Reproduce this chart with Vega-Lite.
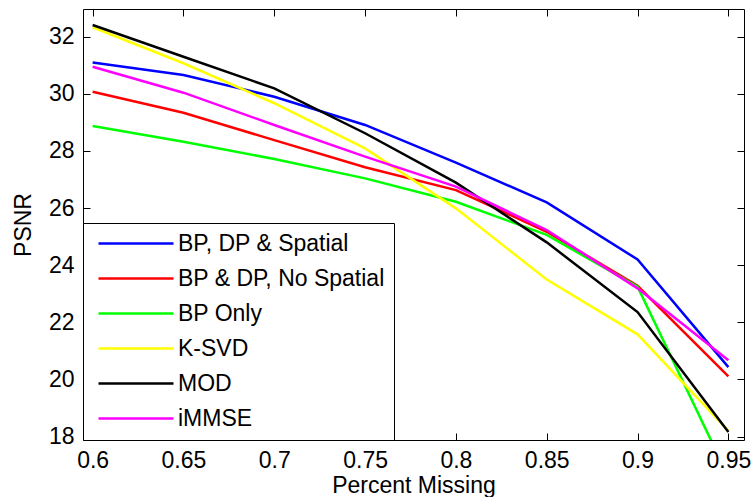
{
  "$schema": "https://vega.github.io/schema/vega-lite/v6.json",
  "width": 661,
  "height": 431,
  "autosize": {"type": "none"},
  "padding": {"left": 83, "top": 9, "right": 8, "bottom": 57},
  "background": "white",
  "config": {
    "font": "Liberation Sans",
    "view": {"stroke": null},
    "axis": {
      "grid": false,
      "domainColor": "black",
      "domainWidth": 1,
      "tickColor": "black",
      "tickWidth": 1,
      "tickSize": -7,
      "labelColor": "black",
      "labelFontSize": 23,
      "labelFont": "Liberation Sans",
      "titleFont": "Liberation Sans",
      "titleFontSize": 23,
      "titleFontWeight": "normal",
      "titleColor": "black",
      "labelPadding": 16
    }
  },
  "data": {
    "values": [
      {"method": "BP, DP & Spatial", "missing": 0.6, "psnr": 31.1},
      {"method": "BP, DP & Spatial", "missing": 0.65, "psnr": 30.66},
      {"method": "BP, DP & Spatial", "missing": 0.7, "psnr": 29.9},
      {"method": "BP, DP & Spatial", "missing": 0.75, "psnr": 28.91},
      {"method": "BP, DP & Spatial", "missing": 0.8, "psnr": 27.59},
      {"method": "BP, DP & Spatial", "missing": 0.85, "psnr": 26.2},
      {"method": "BP, DP & Spatial", "missing": 0.9, "psnr": 24.2},
      {"method": "BP, DP & Spatial", "missing": 0.95, "psnr": 20.43},
      {"method": "BP & DP, No Spatial", "missing": 0.6, "psnr": 30.07},
      {"method": "BP & DP, No Spatial", "missing": 0.65, "psnr": 29.34},
      {"method": "BP & DP, No Spatial", "missing": 0.7, "psnr": 28.38},
      {"method": "BP & DP, No Spatial", "missing": 0.75, "psnr": 27.43},
      {"method": "BP & DP, No Spatial", "missing": 0.8, "psnr": 26.63},
      {"method": "BP & DP, No Spatial", "missing": 0.85, "psnr": 25.17},
      {"method": "BP & DP, No Spatial", "missing": 0.9, "psnr": 23.28},
      {"method": "BP & DP, No Spatial", "missing": 0.95, "psnr": 20.11},
      {"method": "BP Only", "missing": 0.6, "psnr": 28.87},
      {"method": "BP Only", "missing": 0.65, "psnr": 28.32},
      {"method": "BP Only", "missing": 0.7, "psnr": 27.72},
      {"method": "BP Only", "missing": 0.75, "psnr": 27.04},
      {"method": "BP Only", "missing": 0.8, "psnr": 26.22},
      {"method": "BP Only", "missing": 0.85, "psnr": 25.06},
      {"method": "BP Only", "missing": 0.9, "psnr": 23.25},
      {"method": "BP Only", "missing": 0.95, "psnr": 16.6},
      {"method": "K-SVD", "missing": 0.6, "psnr": 32.33},
      {"method": "K-SVD", "missing": 0.65, "psnr": 31.07},
      {"method": "K-SVD", "missing": 0.7, "psnr": 29.67},
      {"method": "K-SVD", "missing": 0.75, "psnr": 28.09},
      {"method": "K-SVD", "missing": 0.8, "psnr": 25.99},
      {"method": "K-SVD", "missing": 0.85, "psnr": 23.5},
      {"method": "K-SVD", "missing": 0.9, "psnr": 21.58},
      {"method": "K-SVD", "missing": 0.95, "psnr": 18.2},
      {"method": "MOD", "missing": 0.6, "psnr": 32.41},
      {"method": "MOD", "missing": 0.65, "psnr": 31.3},
      {"method": "MOD", "missing": 0.7, "psnr": 30.19},
      {"method": "MOD", "missing": 0.75, "psnr": 28.62},
      {"method": "MOD", "missing": 0.8, "psnr": 26.89},
      {"method": "MOD", "missing": 0.85, "psnr": 24.8},
      {"method": "MOD", "missing": 0.9, "psnr": 22.36},
      {"method": "MOD", "missing": 0.95, "psnr": 18.16},
      {"method": "iMMSE", "missing": 0.6, "psnr": 30.95},
      {"method": "iMMSE", "missing": 0.65, "psnr": 30.04},
      {"method": "iMMSE", "missing": 0.7, "psnr": 28.91},
      {"method": "iMMSE", "missing": 0.75, "psnr": 27.8},
      {"method": "iMMSE", "missing": 0.8, "psnr": 26.75},
      {"method": "iMMSE", "missing": 0.85, "psnr": 25.23},
      {"method": "iMMSE", "missing": 0.9, "psnr": 23.19},
      {"method": "iMMSE", "missing": 0.95, "psnr": 20.67}
    ]
  },
  "layer": [
    {
      "mark": {"type": "line", "strokeWidth": 2.5, "clip": true},
      "encoding": {
        "x": {
          "field": "missing",
          "type": "quantitative",
          "scale": {"domain": [0.5947, 0.9586], "nice": false, "zero": false},
          "axis": {
            "orient": "bottom",
            "title": "Percent Missing",
            "values": [0.6, 0.65, 0.7, 0.75, 0.8, 0.85, 0.9, 0.95],
            "format": ".2~f",
            "titlePadding": 2
          }
        },
        "y": {
          "field": "psnr",
          "type": "quantitative",
          "scale": {"domain": [17.88, 32.97], "nice": false, "zero": false},
          "axis": {
            "orient": "left",
            "title": "PSNR",
            "values": [18, 20, 22, 24, 26, 28, 30, 32],
            "format": "d",
            "titlePadding": 13
          }
        },
        "color": {
          "field": "method",
          "type": "nominal",
          "scale": {
            "domain": ["BP, DP & Spatial", "BP & DP, No Spatial", "BP Only", "K-SVD", "MOD", "iMMSE"],
            "range": ["#0000ff", "#ff0000", "#00ff00", "#ffff00", "#000000", "#ff00ff"]
          },
          "legend": {
            "title": null,
            "orient": "bottom-left",
            "offset": 0,
            "padding": 9,
            "fillColor": "white",
            "strokeColor": "black",
            "cornerRadius": 0,
            "symbolType": "stroke",
            "symbolSize": 5625,
            "symbolStrokeWidth": 2.5,
            "symbolOffset": 5,
            "clipHeight": 23,
            "labelFontSize": 23,
            "labelFont": "Liberation Sans",
            "labelColor": "black",
            "labelOffset": 3,
            "labelLimit": 0,
            "rowPadding": 11
          }
        }
      }
    },
    {
      "mark": {"type": "point", "opacity": 0},
      "encoding": {
        "x": {
          "field": "missing",
          "type": "quantitative",
          "scale": {"domain": [0.5947, 0.9586], "nice": false, "zero": false},
          "axis": {"orient": "top", "title": null, "labels": false, "values": [0.6, 0.65, 0.7, 0.75, 0.8, 0.85, 0.9, 0.95]}
        },
        "y": {
          "field": "psnr",
          "type": "quantitative",
          "scale": {"domain": [17.88, 32.97], "nice": false, "zero": false},
          "axis": {"orient": "right", "title": null, "labels": false, "values": [18, 20, 22, 24, 26, 28, 30, 32]}
        }
      }
    }
  ],
  "resolve": {"axis": {"x": "independent", "y": "independent"}}
}
